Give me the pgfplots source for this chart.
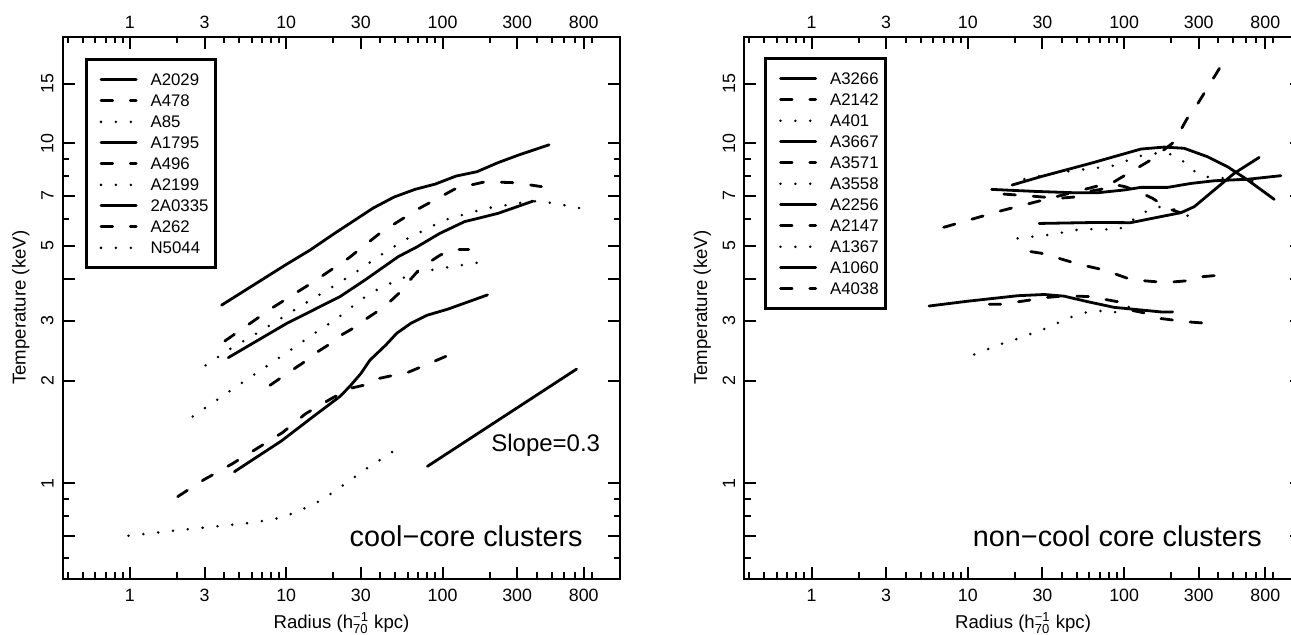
\documentclass[border=0pt]{standalone}
\usepackage{fontspec}
\setmainfont{Liberation Sans}
\usepackage{amsmath}
\usepackage{pgfplots}
\pgfplotsset{compat=1.18}
\newcommand{\tickfont}{\fontsize{8.9pt}{8.9pt}\selectfont}
\newcommand{\legfont}{\fontsize{8.4pt}{8.4pt}\selectfont}
\tikzset{
  solidc/.style={black, line width=1.4pt, line cap=round, line join=round},
  dashc/.style={solidc, dash pattern=on 5.8pt off 8.9pt},
  dotc/.style={solidc, dash pattern=on 0pt off 7.45pt},
}
\pgfplotsset{
  every axis/.append style={
    scale only axis,
    width=278.8pt, height=271pt,
    xmin=0.3715, xmax=1371, ymin=0.523, ymax=20.6,
    axis line style={line width=1pt},
    tick align=inside, xtick pos=both, ytick pos=both,
    xticklabel pos=lower, yticklabel pos=left,
    major tick length=6pt, minor tick length=3.2pt,
    tick style={black, line width=1pt},
    xtick={1,3,10,30,100,300,800},
    xticklabels={1,3,10,30,100,300,800},
    minor xtick={0.4,0.5,0.6,0.7,0.8,0.9,2,4,5,6,7,8,9,20,40,50,60,70,80,90,200,400,500,600,700,900},
    ytick={1,2,3,5,7,10,15}, yticklabels={1,2,3,5,7,10,15},
    extra y ticks={0.7,4}, extra y tick labels={},
    minor ytick={0.6,0.8,0.9,6,8,9},
    xticklabel style={font=\tickfont, inner sep=0pt, anchor=north, yshift=-5.15pt},
    yticklabel style={font=\tickfont, rotate=90, anchor=south, inner xsep=0pt, inner ysep=4.35pt},
    xlabel={Radius (h$^{\text{−1}}_{\text{70}}$ kpc)},
    ylabel={Temperature (keV)},
    label style={font=\fontsize{9.3pt}{9.3pt}\selectfont},
    xlabel style={at={(axis description cs:0.5,-0.0925)}, anchor=base},
    ylabel style={at={(axis description cs:-0.0753,0.5)}, anchor=center},
    clip=false,
    legend cell align=left,
    legend style={anchor=north west, draw=black, line width=1.5pt, fill=white,
      inner xsep=3.4pt, inner ysep=7pt, row sep=4.5pt, column sep=6.5pt,
      font=\legfont, nodes={font=\legfont, inner sep=0pt, text height=6pt, text depth=0pt}},
  },
  legend image code/.code={\draw[#1, shorten <=3.15pt] (0pt,0pt) -- (20.75pt,0pt);},
}
\begin{document}
\begin{tikzpicture}
% ---------------- left panel ----------------
\begin{loglogaxis}[at={(31.35pt,27.65pt)}, anchor=south west,
  legend style={at={(axis description cs:0.040,0.960)}}]
\addplot[solidc] coordinates {(3.86,3.34) (10,4.40) (14.2,4.85) (20,5.40) (36,6.45) (49,6.95) (66.6,7.32) (90,7.59) (122,8.01) (166,8.25) (226,8.77) (307,9.24) (480,9.90)};
\addlegendentry{\legfont A2029}
\addplot[dashc] coordinates {(4.05,2.62) (8.32,3.30) (14.4,3.87) (25,4.59) (40.8,5.49) (70.7,6.43) (122,7.37) (188,7.71) (288,7.66) (429,7.46)};
\addlegendentry{\legfont A478}
\addplot[dotc] coordinates {(3.05,2.22) (4.36,2.48) (6.4,2.75) (9.12,3.04) (13.2,3.38) (19,3.74) (27.5,4.16) (39.4,4.66) (57.1,5.19) (102,5.94) (188,6.43) (368,6.76) (443,6.73) (547,6.63) (678,6.51) (830,6.39)};
\addlegendentry{\legfont A85}
\addplot[solidc] coordinates {(4.26,2.34) (10.06,2.95) (22.1,3.54) (31.9,3.96) (52.1,4.64) (68.3,4.95) (95.9,5.43) (138,5.88) (226,6.22) (379,6.76)};
\addlegendentry{\legfont A1795}
\addplot[dashc] coordinates {(7.87,1.94) (11.4,2.18) (13.2,2.28) (16,2.44) (18.6,2.55) (22.6,2.73) (26.6,2.85) (32.7,3.05) (37.9,3.19) (46.1,3.42) (52.9,3.63) (61.9,3.96) (69.9,4.22) (83,4.48) (96,4.68) (110,4.82) (122,4.87) (147,4.87)};
\addlegendentry{\legfont A496}
\addplot[dotc] coordinates {(2.52,1.57) (3.62,1.76) (5.18,1.97) (7.41,2.20) (10.6,2.46) (15,2.75) (21.5,3.07) (30,3.46) (36,3.66) (43.9,3.83) (53.4,3.98) (66.6,4.16) (96,4.28) (156,4.43) (194,4.50)};
\addlegendentry{\legfont A2199}
\addplot[solidc] coordinates {(4.66,1.08) (9.3,1.33) (14.9,1.57) (22.1,1.80) (25.6,1.93) (30,2.10) (34.3,2.30) (43.4,2.55) (50.9,2.76) (62.5,2.95) (79.8,3.12) (108,3.25) (194,3.58)};
\addlegendentry{\legfont 2A0335}
\addplot[dashc] coordinates {(2.02,0.912) (2.94,1.02) (4.52,1.14) (7.36,1.31) (9.5,1.41) (13.3,1.60) (19.3,1.77) (25.6,1.90) (31.1,1.94) (38.8,2.03) (47.2,2.07) (58.9,2.11) (69.9,2.18) (105,2.36)};
\addlegendentry{\legfont A262}
\addplot[dotc] coordinates {(0.98,0.70) (2.31,0.731) (5.42,0.760) (8.32,0.782) (10.3,0.805) (12.4,0.833) (15.3,0.871) (18.4,0.916) (22.1,0.971) (26.3,1.027) (31,1.087) (37.2,1.148) (44.7,1.209) (53.7,1.285)};
\addlegendentry{\legfont N5044}
\addplot[solidc, forget plot] coordinates {(80,1.12) (720,2.165)};
\node[font=\fontsize{12pt}{12pt}\selectfont, anchor=base west, inner sep=0pt] at (axis description cs:0.768,0.2343) {Slope=0.3};
\node[font=\fontsize{14.4pt}{14.4pt}\selectfont, anchor=base east, inner sep=0pt] at (axis description cs:0.9331,0.059) {cool−core clusters};
\pgfplotsinvokeforeach{1,3,10,30,100,300,800}{\node[font=\tickfont, anchor=base, inner sep=0pt, yshift=4.2pt] at (axis cs:#1,20.6) {#1};}
\end{loglogaxis}
% ---------------- right panel ----------------
\begin{loglogaxis}[at={(372.15pt,27.65pt)}, anchor=south west,
  legend style={at={(axis description cs:0.0362,0.962)}}]
\addplot[solidc] coordinates {(19.2,7.54) (29.3,7.98) (61.4,8.74) (128,9.62) (180,9.75) (242,9.67) (342,9.13) (459,8.53) (617,7.80) (913,6.84)};
\addlegendentry{\legfont A3266}
\addplot[dashc] coordinates {(7.01,5.66) (16.5,6.34) (36.5,6.96) (86.3,7.71) (148,8.93) (209,10.1) (252,11.8) (296,13.1) (330,14.2) (413,16.8)};
\addlegendentry{\legfont A2142}
\addplot[dotc] coordinates {(23,7.85) (35.7,8.17) (44.5,8.28) (55,8.38) (68,8.47) (84,8.58) (104,8.89) (127,9.18) (157,9.34) (192,9.34) (231,8.97) (274,8.34) (325,7.98) (405,7.92) (768,7.71)};
\addlegendentry{\legfont A401}
\addplot[solidc] coordinates {(14.2,7.32) (26.9,7.22) (49.6,7.15) (67,7.15) (100,7.29) (128,7.42) (190,7.42) (267,7.62) (377,7.76) (617,7.84) (1006,8.03)};
\addlegendentry{\legfont A3667}
\addplot[dashc] coordinates {(17,7.09) (25,7.0) (38,6.89) (48,6.95) (57,7.2) (71,7.32) (86,7.57) (102,7.45) (128,7.15) (152,6.89) (191,6.43) (228,6.25)};
\addlegendentry{\legfont A3571}
\addplot[dotc] coordinates {(20.8,5.25) (32,5.37) (39.7,5.46) (49.1,5.56) (61.2,5.59) (75.3,5.58) (93,5.59) (131,6.22) (160,6.51) (200,6.45) (240,6.2) (281,6.0)};
\addlegendentry{\legfont A3558}
\addplot[solidc] coordinates {(28.6,5.81) (67,5.85) (110,5.84) (164,6.06) (231,6.25) (281,6.51) (377,7.29) (506,8.16) (731,9.09)};
\addlegendentry{\legfont A2256}
\addplot[dashc] coordinates {(25.3,4.80) (29.3,4.75) (38,4.59) (47,4.46) (58,4.35) (71,4.26) (88.5,4.12) (106,4.0) (134,3.94) (164,3.91) (207,3.91) (252,3.94) (318,4.05) (380,4.08)};
\addlegendentry{\legfont A2147}
\addplot[dotc] coordinates {(11,2.39) (13.5,2.48) (16.5,2.57) (20.3,2.65) (24.8,2.74) (30.3,2.83) (36.9,2.95) (45,3.07) (55,3.17) (67.6,3.22) (83.8,3.17) (103,3.25) (122,3.46)};
\addlegendentry{\legfont A1367}
\addplot[solidc] coordinates {(5.65,3.32) (9.96,3.43) (20.8,3.56) (30.8,3.59) (41.3,3.55) (58.3,3.42) (86.3,3.29) (172,3.19) (204,3.19)};
\addlegendentry{\legfont A1060}
\addplot[dashc] coordinates {(13.7,3.36) (16.3,3.36) (21.3,3.42) (25.3,3.46) (32.4,3.52) (39.4,3.55) (49.6,3.55) (59.2,3.54) (76,3.47) (90.6,3.42) (110,3.23) (134,3.17) (172,3.05) (204,3.02) (261,2.98) (318,2.96)};
\addlegendentry{\legfont A4038}
\node[font=\fontsize{14.4pt}{14.4pt}\selectfont, anchor=base east, inner sep=0pt] at (axis description cs:0.929,0.059) {non−cool core clusters};
\pgfplotsinvokeforeach{1,3,10,30,100,300,800}{\node[font=\tickfont, anchor=base, inner sep=0pt, yshift=4.2pt] at (axis cs:#1,20.6) {#1};}
\end{loglogaxis}
\pgfresetboundingbox
\path[use as bounding box] (0pt,0pt) rectangle (645.5pt,317pt);
\end{tikzpicture}
\end{document}
